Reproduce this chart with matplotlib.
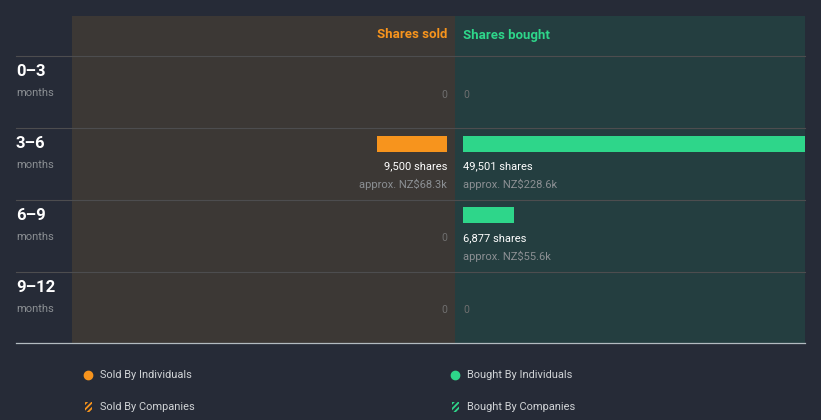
import matplotlib.pyplot as plt
from matplotlib.patches import Rectangle

# Data
periods = ['0\u20133', '3\u20136', '6\u20139', '9\u201312']
sold_shares = [0, 9500, 0, 0]
sold_value = ['', 'approx. NZ$68.3k', '', '']
bought_shares = [0, 49501, 6877, 0]
bought_value = ['', 'approx. NZ$228.6k', 'approx. NZ$55.6k', '']

BG = '#262b37'
SOLD_BG = '#3c3835'
BOUGHT_BG = '#243e40'
ORANGE = '#f7941d'
GREEN = '#2ed68a'
GRID = '#4d4d4f'
GRAY = '#8b8f93'
ZERO = '#6f6f6f'

plt.rcParams['font.family'] = ['Roboto', 'DejaVu Sans']
plt.rcParams['hatch.linewidth'] = 1.3

W, H = 821, 420
fig = plt.figure(figsize=(W / 100, H / 100), dpi=100, facecolor=BG)

# background axis in pixel coordinates
bg = fig.add_axes([0, 0, 1, 1])
bg.set_xlim(0, W)
bg.set_ylim(H, 0)
bg.axis('off')
bg.add_patch(Rectangle((72, 16), 383, 327, color=SOLD_BG, lw=0))
bg.add_patch(Rectangle((455, 16), 350, 327, color=BOUGHT_BG, lw=0))
for y in [56, 128, 200, 272]:
    bg.plot([16, 805], [y, y], color=GRID, lw=0.8)
bg.plot([16, 805], [343, 343], color='#b3bbc0', lw=0.9)

bg.text(447, 35, 'Shares sold', color=ORANGE, fontsize=9.5, fontweight='bold',
        ha='right', va='center')
bg.text(463, 35, 'Shares bought', color=GREEN, fontsize=9.5, fontweight='bold',
        ha='left', va='center')

for i, p in enumerate(periods):
    top = 56 + 72 * i
    bg.text(16, top + 15, p, color='white', fontsize=12, fontweight='bold',
            ha='left', va='center')
    bg.text(16, top + 37, 'months', color=GRAY, fontsize=8, ha='left', va='center')

# legend
bg.plot([88], [375], 'o', color=ORANGE, ms=6)
bg.plot([455], [375], 'o', color=GREEN, ms=6)
bg.add_patch(Rectangle((84.5, 402), 7, 10, facecolor=BG, edgecolor=ORANGE,
                       hatch='//////', lw=0))
bg.add_patch(Rectangle((451.5, 402), 7, 10, facecolor=BG, edgecolor=GREEN,
                       hatch='//////', lw=0))
bg.text(100, 375, 'Sold By Individuals', color='#d0d3d6', fontsize=7.9, va='center')
bg.text(100, 407, 'Sold By Companies', color='#d0d3d6', fontsize=7.9, va='center')
bg.text(467, 375, 'Bought By Individuals', color='#d0d3d6', fontsize=7.9, va='center')
bg.text(467, 407, 'Bought By Companies', color='#d0d3d6', fontsize=7.9, va='center')

# bar axes
px_per_share = 7.4 / 1000
bottom = (H - 343) / H
height = (343 - 56) / H
ax_s = fig.add_axes([72 / W, bottom, (447 - 72) / W, height])
ax_b = fig.add_axes([463 / W, bottom, (805 - 463) / W, height])
ax_s.set_xlim((447 - 72) / px_per_share, 0)
ax_b.set_xlim(0, (805 - 463) / px_per_share)
rows = list(range(len(periods)))
bar_y = [r + 16 / 72 for r in rows]

for ax, vals, money, col, ha in [(ax_s, sold_shares, sold_value, ORANGE, 'right'),
                                  (ax_b, bought_shares, bought_value, GREEN, 'left')]:
    ax.set_ylim(len(periods), 0)
    ax.axis('off')
    ax.patch.set_alpha(0)
    ax.barh(bar_y, vals, height=16 / 72, color=col, lw=0)
    for r, v, m in zip(rows, vals, money):
        if v == 0:
            ax.text(0, r + 39 / 72, '0', color=ZERO, fontsize=7.5, ha=ha, va='center')
        else:
            ax.text(0, r + 39 / 72, f'{v:,} shares', color='white', fontsize=8,
                    ha=ha, va='center')
            ax.text(0, r + 57 / 72, m, color=GRAY, fontsize=8, ha=ha, va='center')

fig.savefig('out.png', dpi=100, facecolor=BG)
plt.close()
